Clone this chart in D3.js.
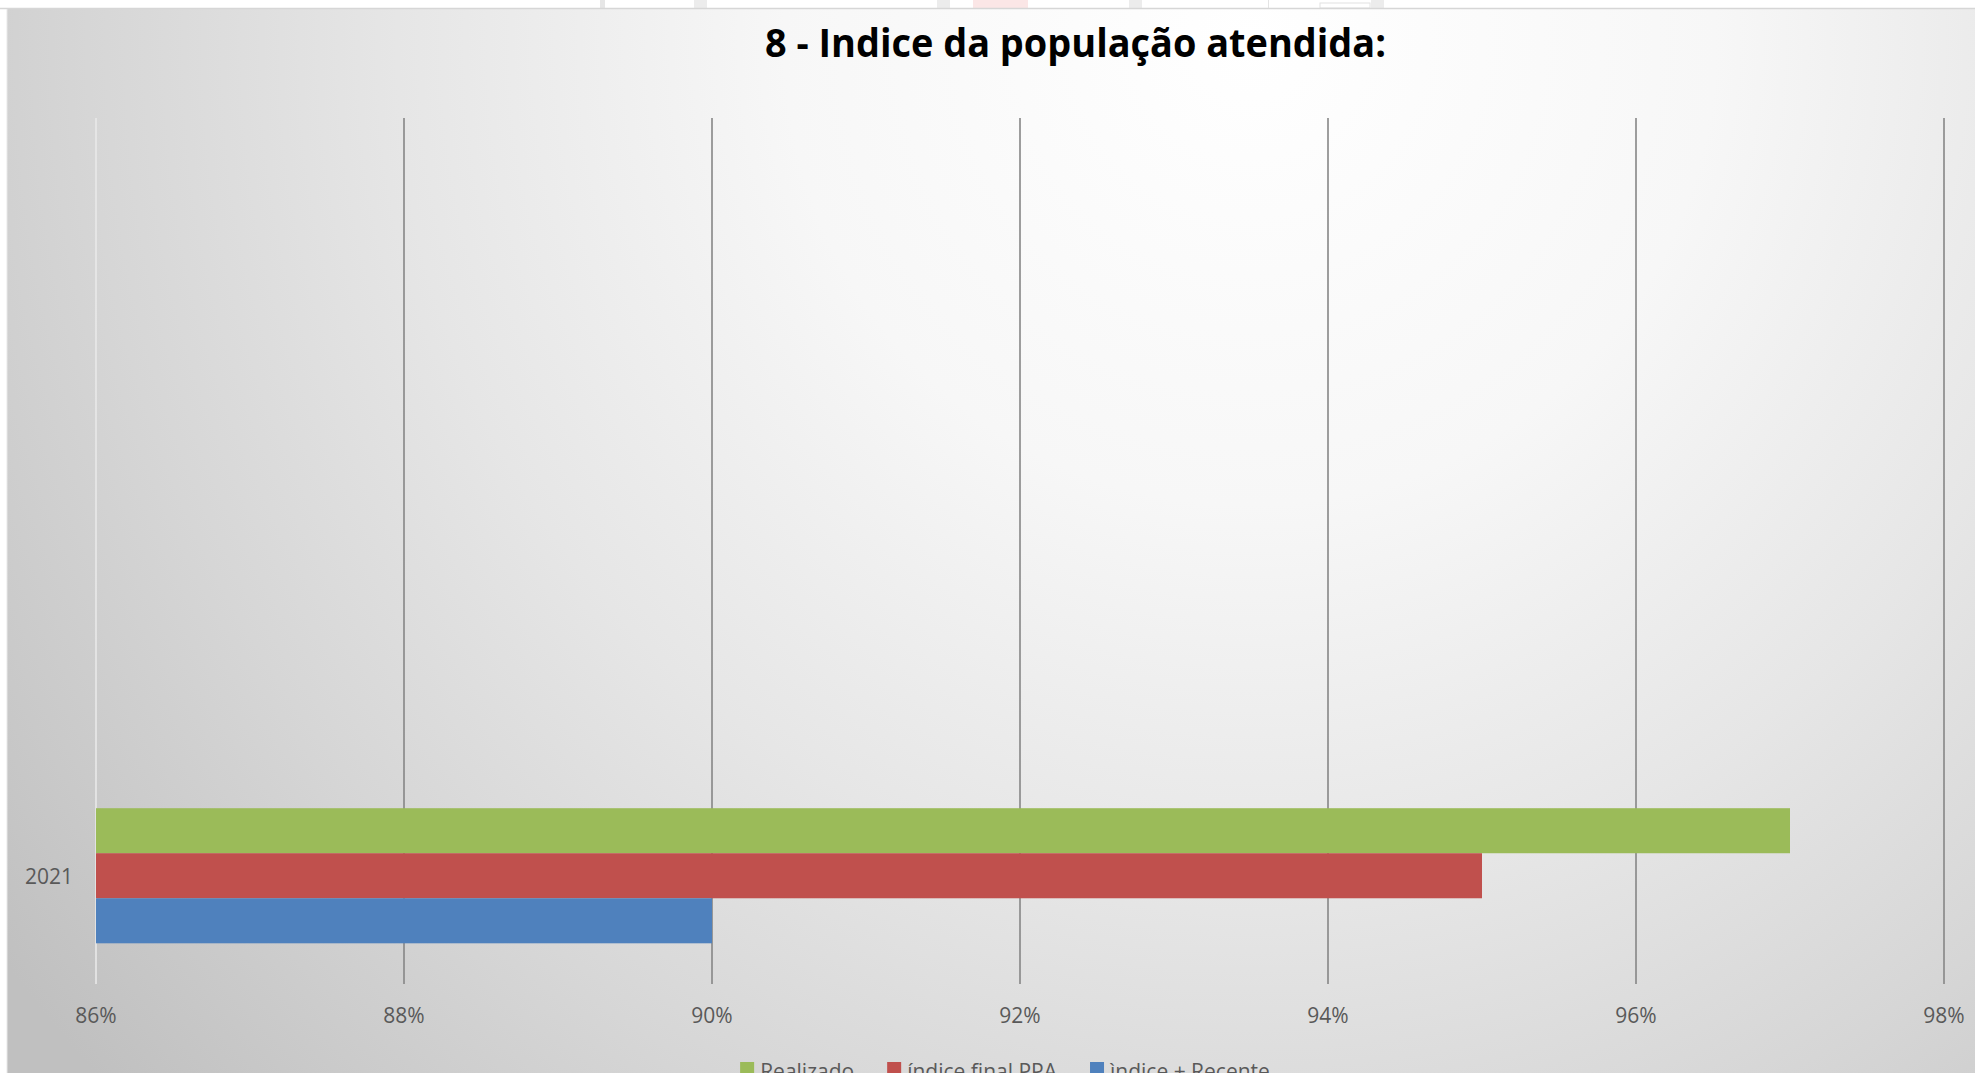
<!DOCTYPE html>
<html>
<head>
<meta charset="utf-8">
<script src="https://cdn.jsdelivr.net/npm/d3@7"></script>
<style>
  html, body { margin: 0; padding: 0; background: #ffffff; overflow: hidden; }
  svg { display: block; }
</style>
</head>
<body>
<svg id="chart" width="1975" height="1073"></svg>
<script>
// ---- data ----
const titleText = "8 - Indice da população atendida:";
const categories = ["2021", "", "", ""];          // first category drawn at bottom (Excel bar order)
const seriesNames = ["Realizado", "índice final PPA", "ìndice + Recente"];
const seriesColors = ["#9bbb59", "#c0504d", "#4f81bd"];
const realizado = [0.97, null, null, null];
const indiceFinalPPA = [0.95, null, null, null];
const indiceRecente = [0.90, null, null, null];
const xTicks = [0.86, 0.88, 0.90, 0.92, 0.94, 0.96, 0.98];
const xTickLabels = ["86%", "88%", "90%", "92%", "94%", "96%", "98%"];

const seriesValues = [realizado, indiceFinalPPA, indiceRecente];

// ---- layout ----
const W = 1975, H = 1073;
const svg = d3.select("#chart");
const FONT = "'Open Sans', 'Noto Sans', 'DejaVu Sans', sans-serif";

const defs = svg.append("defs");
const grad = defs.append("radialGradient")
  .attr("id", "bg").attr("gradientUnits", "userSpaceOnUse")
  .attr("cx", 1250).attr("cy", 40).attr("r", 1550)
  .attr("fx", 1250).attr("fy", 40);
[[0, "#ffffff"], [0.3, "#f7f7f7"], [0.55, "#e6e6e6"], [0.75, "#d6d6d6"], [0.9, "#c9c9c9"], [1, "#c0c0c0"]]
  .forEach(([o, c]) => grad.append("stop").attr("offset", o).attr("stop-color", c));

// page strip above chart (faint background shapes)
const strip = svg.append("g");
[[600, 5, "#e6e6e6"], [694, 13, "#ececec"], [937, 13, "#ececec"], [1129, 13, "#ececec"], [1268, 1, "#e4e4e4"], [1371, 13, "#ececec"]]
  .forEach(([x, w, c]) => strip.append("rect").attr("x", x).attr("y", 0).attr("width", w).attr("height", 8).attr("fill", c));
strip.append("rect").attr("x", 973).attr("y", 0).attr("width", 55).attr("height", 8).attr("fill", "#fbe6e6");
strip.append("rect").attr("x", 1320).attr("y", 3).attr("width", 50).attr("height", 5).attr("fill", "none").attr("stroke", "#e2e2e2");

// chart area
svg.append("rect").attr("x", 7).attr("y", 9).attr("width", W - 7).attr("height", H - 9)
  .attr("fill", "url(#bg)");
svg.append("line").attr("x1", 0).attr("x2", W).attr("y1", 8.5).attr("y2", 8.5)
  .attr("stroke", "#d6d6d6").attr("stroke-width", 1.5);
svg.append("line").attr("x1", 7).attr("x2", 7).attr("y1", 9).attr("y2", H)
  .attr("stroke", "#e8e8e8").attr("stroke-width", 1);

const plotTop = 118, plotBottom = 984, plotLeft = 96, plotRight = 1944;

const x = d3.scaleLinear().domain([0.86, 0.98]).range([plotLeft, plotRight]);
const y0 = d3.scaleBand().domain(d3.range(categories.length))
  .range([plotBottom, plotTop]).paddingInner(0.376).paddingOuter(0.188);
const y1 = d3.scaleBand().domain(d3.range(seriesNames.length)).range([0, y0.bandwidth()]);

// gridlines
svg.append("g").selectAll("line").data(xTicks).join("line")
  .attr("x1", d => Math.round(x(d))).attr("x2", d => Math.round(x(d)))
  .attr("y1", plotTop).attr("y2", plotBottom)
  .attr("stroke", (d, i) => i === 0 ? "#e9e9e9" : "#868686")
  .attr("stroke-width", 1.6);

// bars
const rows = [];
categories.forEach((c, ci) => {
  seriesValues.forEach((vals, si) => {
    if (vals[ci] != null) rows.push({ ci, si, v: vals[ci] });
  });
});
svg.append("g").selectAll("rect").data(rows).join("rect")
  .attr("x", x(0.86))
  .attr("y", d => y0(d.ci) + y1(d.si))
  .attr("width", d => x(d.v) - x(0.86))
  .attr("height", y1.bandwidth())
  .attr("fill", d => seriesColors[d.si]);

// x tick labels
svg.append("g").selectAll("text").data(xTicks).join("text")
  .attr("x", d => x(d)).attr("y", 1023)
  .attr("text-anchor", "middle")
  .attr("font-family", FONT).attr("font-size", 21).attr("fill", "#595959")
  .text((d, i) => xTickLabels[i]);

// y category labels
svg.append("g").selectAll("text").data(categories.map((c, i) => ({ c, i })).filter(d => d.c !== ""))
  .join("text")
  .attr("x", 73).attr("y", d => y0(d.i) + y0.bandwidth() / 2 + 8)
  .attr("text-anchor", "end")
  .attr("font-family", FONT).attr("font-size", 21).attr("fill", "#595959")
  .text(d => d.c);

// title
svg.append("text")
  .attr("x", 765).attr("y", 57)
  .attr("font-family", FONT).attr("font-weight", "bold").attr("font-size", 39)
  .attr("fill", "#000000")
  .attr("textLength", 621).attr("lengthAdjust", "spacingAndGlyphs")
  .text(titleText);

// legend
const legend = svg.append("g");
const items = legend.selectAll("g").data(seriesNames).join("g");
items.append("rect").attr("width", 14).attr("height", 14).attr("y", 1062)
  .attr("fill", (d, i) => seriesColors[i]);
items.append("text").attr("x", 20).attr("y", 1079)
  .attr("font-family", FONT).attr("font-size", 21).attr("fill", "#595959")
  .text(d => d);
const widths = [];
items.each(function () { widths.push(20 + this.querySelector("text").getComputedTextLength()); });
const gap = 33;
const total = d3.sum(widths) + gap * (widths.length - 1);
let cx = 1005 - total / 2;
items.attr("transform", (d, i) => {
  const t = `translate(${cx},0)`;
  cx += widths[i] + gap;
  return t;
});
</script>
</body>
</html>
